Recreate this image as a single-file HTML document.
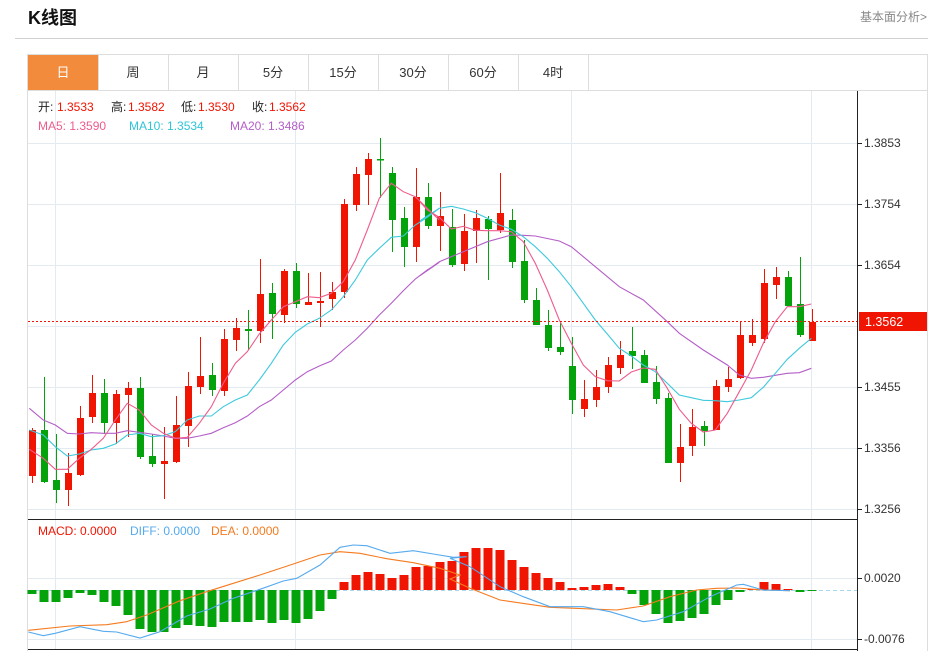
<!DOCTYPE html>
<html><head><meta charset="utf-8"><style>
body{margin:0;background:#fff;width:942px;height:651px;overflow:hidden;font-family:"Liberation Sans","Noto Sans CJK SC",sans-serif;}
</style></head><body>
<svg id="s" width="942" height="651" xmlns="http://www.w3.org/2000/svg" style="position:absolute;left:0;top:0">
<text x="28" y="24" font-size="18" font-weight="bold" fill="#111" font-family="Liberation Sans,Noto Sans CJK SC,sans-serif">K线图</text>
<text x="927" y="21" font-size="12" fill="#888" text-anchor="end" font-family="Liberation Sans,Noto Sans CJK SC,sans-serif">基本面分析&gt;</text>
<line x1="15" y1="38.5" x2="928" y2="38.5" stroke="#d0d0d0"/>
<rect x="27.5" y="54.5" width="900" height="600" fill="none" stroke="#ddd"/>
<line x1="27" y1="90.5" x2="928" y2="90.5" stroke="#ddd"/>
<rect x="28" y="55" width="70" height="35" fill="#f28b3c"/>
<g id="tabs" font-size="13" font-family="Liberation Sans,Noto Sans CJK SC,sans-serif" text-anchor="middle"></g>
<g id="grid"></g>
<g id="plot"></g>
</svg>
<script>
var NS="http://www.w3.org/2000/svg";
function el(p,t,a,txt){var e=document.createElementNS(NS,t);for(var k in a)e.setAttribute(k,a[k]);if(txt!=null)e.textContent=txt;p.appendChild(e);return e;}
var tabs=document.getElementById('tabs'),grid=document.getElementById('grid'),plot=document.getElementById('plot');
var names=["日","周","月","5分","15分","30分","60分","4时"];
for(var i=0;i<8;i++){var x=28+70*i;el(tabs,'text',{x:x+35,y:77,fill:i==0?'#fff':'#333'},names[i]);el(tabs,'line',{x1:x+70.5,y1:55,x2:x+70.5,y2:90,stroke:'#ddd'});}
[143,204,265,326,387,448,509].forEach(function(y){el(grid,'line',{x1:28,y1:y+.5,x2:857,y2:y+.5,stroke:'#e3eaf0'});});
[578,639].forEach(function(y){el(grid,'line',{x1:28,y1:y+.5,x2:857,y2:y+.5,stroke:'#e3eaf0'});});
[55,295,571,811].forEach(function(x){el(grid,'line',{x1:x+.5,y1:91,x2:x+.5,y2:649,stroke:'#e3eaf0'});});
el(grid,'line',{x1:28,y1:519.5,x2:857,y2:519.5,stroke:'#222'});
el(grid,'line',{x1:28,y1:649.5,x2:857,y2:649.5,stroke:'#222'});
el(grid,'line',{x1:857.5,y1:91,x2:857.5,y2:651,stroke:'#222'});
var labs=[[143,"1.3853"],[204,"1.3754"],[265,"1.3654"],[387,"1.3455"],[448,"1.3356"],[509,"1.3256"],[578,"0.0020"],[639,"-0.0076"]];
labs.forEach(function(l){el(grid,'line',{x1:857,y1:l[0]+.5,x2:862,y2:l[0]+.5,stroke:'#222'});el(grid,'text',{x:864,y:l[0]+4,'font-size':12,fill:'#333'},l[1]);});
var C=[
["r",476,430,428,483],["g",430,482,377,483],["g",480,490,434,503],["r",490,473,453,506],["r",475,418,406,476],["r",417,393,375,423],["g",393,423,379,434],["r",423,394,390,444],["r",395,388,382,437],["g",388,457,377,459],
["g",456,464,434,467],["r",464,461,427,499],["r",462,425,396,463],["r",426,386,372,447],["r",387,376,337,394],["g",375,390,363,396],["r",391,339,329,396],["r",340,328,318,351],["g",329,331,310,350],["r",331,294,259,343],
["g",293,314,283,339],["r",315,271,269,323],["g",271,304,263,308],["r",305,302,273,305],["r",303,301,272,327],["r",299,292,282,310],["r",292,204,199,298],["r",205,174,167,211],["r",175,159,153,205],["g",159,160,138,198],
["g",173,220,167,252],["g",218,247,207,267],["r",247,197,168,262],["g",197,226,183,229],["r",226,216,192,251],["g",227,265,209,267],["r",264,231,214,271],["r",231,218,210,263],["g",219,229,216,280],["r",230,213,173,233],
["g",220,262,209,268],["g",261,300,240,303],["g",300,325,288,325],["g",325,348,310,351],["g",347,352,321,355],["g",366,400,337,414],["r",409,399,380,417],["r",400,387,370,407],["r",387,365,357,393],["r",368,355,341,374],
["g",351,356,327,369],["g",355,383,350,383],["g",382,399,366,404],["g",398,463,393,463],["r",463,447,424,482],["r",446,427,409,456],["g",426,431,421,446],["r",430,386,380,430],["r",387,379,367,392],["r",378,335,321,379],
["r",343,335,319,346],["r",339,283,269,343],["r",285,277,267,299],["g",277,306,271,306],["g",304,335,257,337],["r",322,341,309,341]];
var RED="#f01402",GRN="#04a30c";
C.forEach(function(c,i){var x=32+12*i,col=c[0]=="r"?RED:GRN;var t=Math.min(c[1],c[2]),b=Math.max(c[1],c[2]);
el(plot,'line',{x1:x+.5,y1:c[3],x2:x+.5,y2:c[4],stroke:col});el(plot,'rect',{x:x-3,y:t,width:7,height:Math.max(b-t,1.5),fill:col});});
function pl(pts,ox,oy,col,w){var d=pts.map(function(p){return (ox+p[0]/3).toFixed(1)+","+(oy+p[1]/3).toFixed(1)}).join(" ");el(plot,'polyline',{points:d,fill:'none',stroke:col,'stroke-width':w||1.1});}
var ma5a=[[28,958],[70,985],[106,1018],[142,1018],[178,985],[214,958],[250,925],[286,870],[322,820],[358,840],[394,885],[430,910],[466,925],[502,922],[538,880],[574,830],[610,760],[646,700],[682,665],[718,612],[754,570],[790,530],[826,515],[862,500],[898,503],[934,490],[970,455],[1006,390],[1042,300],[1078,205],[1114,160],[1150,185],[1186,200],[1222,235],[1258,270]];
var ma5b=[[0,215],[22,240],[58,262],[94,297],[130,289],[166,301],[202,302],[238,302],[274,305],[310,335],[346,400],[382,480],[418,570],[454,640],[490,705],[526,740],[562,752],[598,753],[634,726],[670,714],[706,718],[742,775],[778,838],[814,880],[850,906],[886,900],[922,850],[958,785],[994,720],[1030,640],[1066,575],[1102,530],[1138,530],[1174,522]];
var m10a=[[28,900],[70,915],[106,950],[142,978],[178,972],[214,960],[250,955],[286,942],[322,915],[358,910],[394,920],[430,917],[466,905],[502,870],[538,858],[574,858],[610,830],[646,810],[682,795],[718,750],[754,700],[790,645],[826,607],[862,582],[898,565],[934,540],[970,500],[1006,450],[1042,390],[1078,355],[1114,322],[1150,318],[1186,285],[1222,262],[1258,235]];
var m10b=[[0,272],[22,258],[58,235],[94,229],[130,237],[166,248],[202,265],[238,285],[274,298],[310,320],[346,350],[382,385],[418,425],[454,470],[490,520],[526,570],[562,612],[598,655],[634,678],[670,705],[706,725],[742,760],[778,795],[814,803],[850,811],[886,812],[922,815],[958,810],[994,803],[1030,772],[1066,730],[1102,688],[1138,655],[1174,625]];
var m20a=[[28,835],[70,870],[106,885],[142,910],[178,912],[214,908],[250,910],[286,910],[322,902],[358,907],[394,912],[430,918],[466,925],[502,925],[538,918],[574,910],[610,893],[646,878],[682,858],[718,830],[754,810],[790,780],[826,750],[862,725],[898,708],[934,693],[970,660],[1006,630],[1042,595],[1078,555],[1114,520],[1150,482],[1186,447],[1222,420],[1258,397]];
var m20b=[[0,437],[58,395],[130,365],[202,335],[274,315],[310,316],[346,318],[418,333],[454,350],[526,410],[598,470],[670,510],[742,575],[778,610],[850,660],[922,705],[958,735],[994,745],[1030,742],[1102,730],[1138,728],[1174,715]];
function join(a,b){return a.map(function(p){return [p[0]+60,p[1]]}).concat(b.map(function(p){return [p[0]+1260,p[1]]}));}
pl(join(m20a,m20b),0,130,"#b45ec8");
pl(join(m10a,m10b),0,130,"#3ec9dd");
pl(join(ma5a,ma5b),0,130,"#ee5c8c");
el(plot,'line',{x1:28,y1:321.5,x2:857,y2:321.5,stroke:RED,'stroke-dasharray':'2,2'});
el(plot,'rect',{x:859,y:312,width:68,height:19,fill:RED});
el(plot,'text',{x:865,y:326,'font-size':12.5,fill:'#fff'},"1.3562");
el(plot,'line',{x1:28,y1:590.5,x2:857,y2:590.5,stroke:'#a8d8ee','stroke-dasharray':'4,3'});
var H=[594,602,602,598,593,595,602,606,615,629,632,632,628,625,626,627,622,622,622,620,623,620,623,619,611,599,582,575,572,574,578,575,567,566,562,561,552,548,548,550,560,567,573,578,582,588,587,585,584,587,594,605,614,623,621,618,614,605,600,592,589,582,584,589,592,591];
H.forEach(function(y,i){var x=32+12*i,col=y<590?RED:GRN;el(plot,'rect',{x:x-4.5,y:Math.min(y,590),width:9,height:Math.max(Math.abs(y-590),1),fill:col});});
var difA=[[25,366],[70,377],[106,370],[180,350],[250,364],[290,366],[360,384],[420,365],[500,318],[570,297],[640,265],[720,238],[790,213],[830,205],[900,165],[960,112],[1000,105],[1040,107],[1110,130],[1180,122],[1240,132],[1300,142],[1340,140]];
var difB=[[0,145],[60,170],[150,230],[220,260],[300,290],[400,290],[480,305],[580,335],[620,330],[700,305],[780,260],[860,225],[880,223],[940,240],[1020,242]];
var deaA=[[25,361],[150,348],[260,344],[320,335],[380,315],[480,272],[560,245],[640,220],[720,195],[820,162],[900,135],[960,125],[1020,130],[1100,146],[1180,158],[1260,175],[1320,195]];
var deaB=[[0,207],[60,235],[150,270],[300,292],[500,300],[580,288],[660,260],[740,240],[800,235],[860,234],[940,240],[1020,242]];
function j2(a,b){return a.map(function(p){return [p[0]+60,p[1]]}).concat(b.map(function(p){return [p[0]+1350,p[1]]}));}
pl(j2(deaA,deaB),0,510,"#f57a1e");
pl(j2(difA,difB),0,510,"#55aaee");
var f='Liberation Sans,Noto Sans CJK SC,sans-serif';
function tx(x,y,s,c){el(plot,'text',{x:x,y:y,'font-size':12,fill:c,'font-family':f},s);}
tx(38,111,"开:","#222");tx(57,111,"1.3533",RED);tx(111,111,"高:","#222");tx(128,111,"1.3582",RED);tx(181,111,"低:","#222");tx(198,111,"1.3530",RED);tx(252,111,"收:","#222");tx(269,111,"1.3562",RED);
tx(38,130,"MA5: 1.3590","#ee5c8c");tx(129,130,"MA10: 1.3534","#2fc4d8");tx(230,130,"MA20: 1.3486","#b45ec8");
tx(38,535,"MACD: 0.0000",RED);tx(130,535,"DIFF: 0.0000","#55aaee");tx(211,535,"DEA: 0.0000","#f57a1e");
</script>
</body></html>
